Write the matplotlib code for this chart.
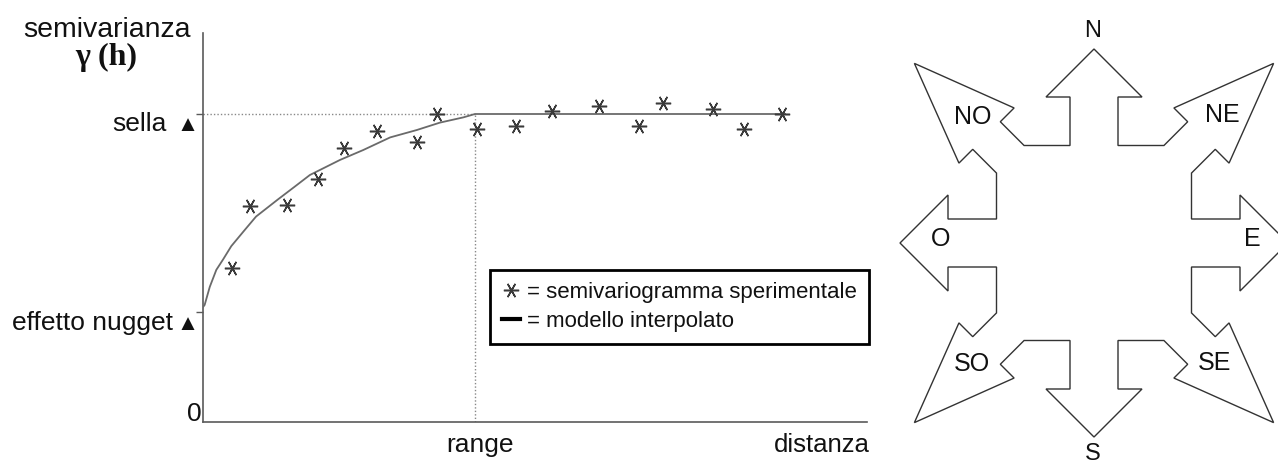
"""Semivariogram sketch (nugget, sill, range) next to an eight-direction rose."""
import matplotlib.pyplot as plt
import numpy as np
from matplotlib.lines import Line2D
from matplotlib.patches import Polygon

W, H = 1278, 463
SANS = ["Liberation Sans", "DejaVu Sans"]
INK = "#111111"
AXIS = "#5a5a5a"
CURVE = "#6a6a6a"
STAR_COLOR = "#3a3a3a"
STAR = (6, 2, 90)

# model parameters (sill normalised to 1, range to 10 distance units)
NUGGET = 0.358
SILL = 1.0
RANGE = 10.0

# experimental semivariogram
lag = [1.07, 1.73, 3.09, 4.23, 5.18, 6.40, 7.87, 8.60, 10.07, 11.51, 12.83,
       14.56, 16.03, 16.91, 18.75, 19.89, 21.29]
gamma = [0.50, 0.70, 0.705, 0.79, 0.89, 0.945, 0.91, 1.00, 0.95, 0.96, 1.01,
         1.025, 0.96, 1.035, 1.015, 0.95, 1.00]

# interpolated model, traced point by point
model_lag = [0.0, 0.06, 0.25, 0.49, 0.74, 1.04, 1.53, 1.95, 2.76, 3.37, 3.93,
             5.04, 5.89, 6.88, 7.86, 8.71, 9.57, 10.0, 21.4]
model_gamma = [0.373, 0.380, 0.439, 0.494, 0.528, 0.571, 0.623, 0.667, 0.723,
               0.764, 0.802, 0.851, 0.883, 0.924, 0.948, 0.972, 0.989, 1.0, 1.0]

# compass rose labels and their positions (pixels)
rose_labels = ["N", "NE", "E", "SE", "S", "SO", "O", "NO"]
rose_x = [1093, 1222, 1252, 1215, 1093, 972, 941, 973]
rose_y = [31, 115, 239, 363, 454, 364, 239, 117]
rose_size = [17, 18, 18, 18, 17, 18, 18, 18]


def mark(ax, text, xy, dx, dy, ha="right", size=19, **kw):
    ax.annotate(text, xy=xy, xytext=(dx, dy), textcoords="offset pixels",
                ha=ha, va="baseline", fontsize=size, color=INK,
                family=SANS, annotation_clip=False, **kw)


def draw_semivariogram(fig):
    ax = fig.add_axes([203 / W, (H - 422) / H, (867 - 203) / W, (422 - 33) / H])
    ax.set_xlim(0, (867 - 203) / 27.2)
    ax.set_ylim(0, (422 - 33) / 308)
    for side in ("top", "right"):
        ax.spines[side].set_visible(False)
    for side in ("left", "bottom"):
        ax.spines[side].set_color(AXIS)
        ax.spines[side].set_linewidth(1.2)
    ax.set_xticks([])
    ax.set_yticks([NUGGET, SILL])
    ax.set_yticklabels([])
    ax.tick_params(axis="y", length=5, width=1, color=AXIS, direction="out")

    ax.plot([0, RANGE], [SILL, SILL], color="#888888", lw=1, ls=(0, (1, 1.5)))
    ax.plot([RANGE, RANGE], [0, SILL], color="#888888", lw=1, ls=(0, (1, 1.5)))
    ax.plot(model_lag, model_gamma, color=CURVE, lw=1.3, zorder=3)
    ax.plot(lag, gamma, ls="none", marker=STAR, ms=11, mec=STAR_COLOR,
            mew=1.1, zorder=4)

    mark(ax, "sella", (0, SILL), -36, -17)
    mark(ax, "\u25b2", (0, SILL), -15, -17, ha="center", size=16)
    mark(ax, "effetto nugget", (0, NUGGET), -30, -18)
    mark(ax, "\u25b2", (0, NUGGET), -15, -18, ha="center", size=16)
    mark(ax, "0", (0, 0), -1, 1)
    mark(ax, "range", (RANGE, 0), 5, -30, ha="center")
    ax.annotate("distanza", xy=(1, 0), xycoords="axes fraction", xytext=(3, -30),
                textcoords="offset pixels", ha="right", va="baseline",
                fontsize=18.5, color=INK, family=SANS, annotation_clip=False)

    fig.text(107 / W, 1 - 37 / H, "semivarianza", ha="center", va="baseline",
             fontsize=20.5, color=INK, family=SANS)
    fig.text(106 / W, 1 - 65 / H, "\u03b3 (h)", ha="center", va="baseline",
             fontsize=23, color=INK, family=["Liberation Serif", "DejaVu Serif"],
             weight="bold")

    handles = [Line2D([], [], ls="none", marker=STAR, ms=11, mec=STAR_COLOR, mew=1.1),
               Line2D([], [], color="black", lw=3)]
    leg = fig.legend(handles, ["= semivariogramma sperimentale", "= modello interpolato"],
                     loc="upper left", bbox_to_anchor=(490 / W, 1 - 270 / H),
                     bbox_transform=fig.transFigure, borderaxespad=0,
                     frameon=True, fancybox=False, framealpha=1, edgecolor="black",
                     handlelength=0.8, handletextpad=0.3, borderpad=0.55,
                     labelspacing=0.35, prop={"family": SANS, "size": 16})
    leg.get_frame().set_linewidth(2)
    for t in leg.get_texts():
        t.set_color(INK)


def rose_outline():
    """Outline of the rose: one quarter from N to E, rotated round the centre."""
    sq, shaft, head, base, tip = 97.5, 24, 48, 146, 194
    d_shaft, d_head, d_base, d_tip = 19.5, 39, 152, 254
    r2 = np.sqrt(2)
    d = np.array([1, 1]) / r2
    p = np.array([-1, 1]) / r2
    u0 = sq * r2 - d_shaft
    quarter = [(0, tip), (head, base), (shaft, base), (shaft, sq)]
    for u, v in [(u0, d_shaft), (d_base, d_shaft), (d_base, d_head), (d_tip, 0),
                 (d_base, -d_head), (d_base, -d_shaft), (u0, -d_shaft)]:
        quarter.append(tuple(u * d + v * p))
    quarter += [(sq, shaft), (base, shaft), (base, head)]
    q = np.array(quarter)
    parts = []
    for _ in range(4):
        parts.append(q)
        q = np.column_stack([q[:, 1], -q[:, 0]])
    return np.vstack(parts)


def draw_rose(fig):
    ax = fig.add_axes([880 / W, 0, (W - 880) / W, 1])
    ax.set_xlim(880, W)
    ax.set_ylim(H, 0)
    ax.axis("off")
    cx, cy = 1094, 243
    pts = rose_outline()
    xy = np.column_stack([cx + pts[:, 0], cy - pts[:, 1]])
    ax.add_patch(Polygon(xy, closed=True, facecolor="white", edgecolor="#333333",
                         linewidth=1.0, joinstyle="miter"))
    for lab, x, y, s in zip(rose_labels, rose_x, rose_y, rose_size):
        ax.text(x, y, lab, ha="center", va="center", fontsize=s, color=INK,
                family=SANS)


def main():
    fig = plt.figure(figsize=(W / 100, H / 100), dpi=100, facecolor="white")
    draw_semivariogram(fig)
    draw_rose(fig)
    fig.savefig("out.png", dpi=100, facecolor="white")
    plt.close(fig)


if __name__ == "__main__":
    main()
